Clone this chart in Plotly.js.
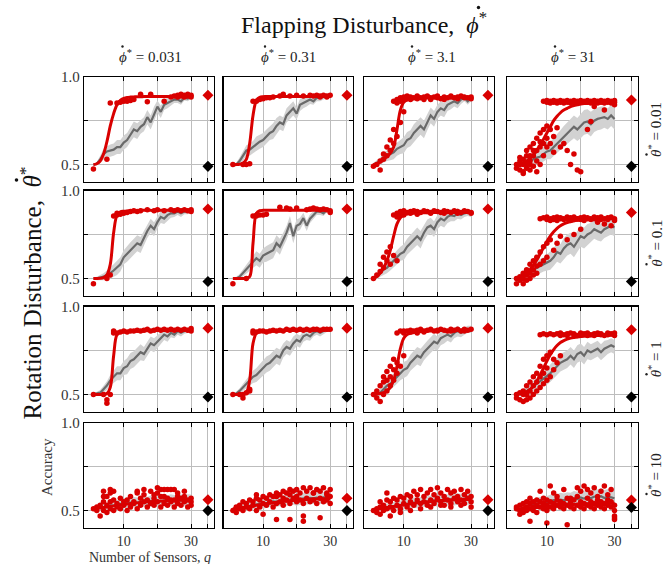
<!DOCTYPE html>
<html><head><meta charset="utf-8">
<script src="https://cdn.plot.ly/plotly-3.0.1.min.js"></script>
<style>html,body{margin:0;padding:0;background:#fff}#chart{width:668px;height:564px}</style>
</head><body><div id="chart"></div>
<script>
// ---------- data ----------
const Q = [1,2,3,4,5,6,7,8,9,10,11,12,13,14,15,16,17,18,19,20,21,22,23,24,25,26,27,28,29,30];
const colLabels = ['0.031','0.31','3.1','31'];
const rowLabels = ['0.01','0.1','1','10'];
const xTickVals = [10,20,30,35];
const xTickText = ['10','','30',''];
const yTickVals = [0.5,0.75,1.0];
const yTickText = ['0.5','','1.0'];
const allSensorsX = 35;

// row 1
const fit_11 = [0.500,0.505,0.520,0.560,0.630,0.720,0.790,0.840,0.865,0.876,0.882,0.884,0.885,0.886,0.886,0.887,0.887,0.887,0.887,0.888,0.888,0.888,0.888,0.888,0.888,0.888,0.888,0.888,0.888,0.888];
const mean_11 = [0.500,0.505,0.530,0.560,0.575,0.580,0.585,0.600,0.600,0.625,0.640,0.670,0.700,0.690,0.715,0.730,0.770,0.740,0.790,0.830,0.800,0.840,0.850,0.860,0.870,0.870,0.860,0.880,0.875,0.885];
const sd_11 = [0.005,0.010,0.020,0.030,0.030,0.035,0.035,0.040,0.040,0.040,0.040,0.040,0.045,0.045,0.040,0.040,0.040,0.040,0.040,0.035,0.035,0.030,0.030,0.025,0.020,0.020,0.020,0.015,0.015,0.010];
const px_11 = [1,5,6,8,9,10,11,12,13,15,17,18,22,24,25,26,26,27,27,28,28,29,29,30,30];
const py_11 = [0.475,0.53,0.85,0.85,0.855,0.86,0.86,0.865,0.87,0.9,0.858,0.9,0.86,0.885,0.89,0.895,0.885,0.9,0.89,0.895,0.885,0.9,0.89,0.895,0.885];

const fit_12 = [0.500,0.500,0.502,0.508,0.530,0.620,0.780,0.865,0.882,0.886,0.887,0.888,0.888,0.888,0.888,0.888,0.888,0.888,0.888,0.888,0.888,0.888,0.888,0.888,0.888,0.888,0.888,0.888,0.888,0.888];
const mean_12 = [0.500,0.500,0.520,0.550,0.580,0.585,0.600,0.620,0.630,0.640,0.660,0.680,0.690,0.720,0.740,0.730,0.780,0.800,0.820,0.790,0.840,0.850,0.860,0.870,0.860,0.880,0.880,0.885,0.890,0.890];
const sd_12 = [0.005,0.010,0.020,0.030,0.030,0.035,0.035,0.040,0.040,0.040,0.040,0.040,0.045,0.045,0.040,0.040,0.040,0.040,0.040,0.035,0.035,0.030,0.030,0.025,0.020,0.020,0.020,0.015,0.015,0.010];
const px_12 = [1,4,5,6,7,8,9,10,11,12,13,15,16,18,20,22,24,25,26,27,28,29,30,27,29];
const py_12 = [0.5,0.5,0.5,0.505,0.86,0.86,0.87,0.875,0.88,0.88,0.885,0.89,0.9,0.89,0.895,0.89,0.895,0.89,0.895,0.89,0.895,0.89,0.895,0.885,0.885];

const fit_13 = [0.500,0.505,0.515,0.530,0.545,0.565,0.600,0.700,0.810,0.855,0.868,0.873,0.875,0.877,0.878,0.879,0.879,0.880,0.880,0.881,0.881,0.881,0.882,0.882,0.882,0.882,0.883,0.883,0.883,0.883];
const mean_13 = [0.500,0.510,0.520,0.540,0.550,0.560,0.570,0.590,0.600,0.610,0.640,0.650,0.680,0.700,0.720,0.700,0.740,0.780,0.760,0.800,0.820,0.810,0.840,0.850,0.860,0.850,0.870,0.880,0.860,0.880];
const sd_13 = [0.010,0.015,0.020,0.030,0.030,0.035,0.040,0.040,0.040,0.045,0.045,0.045,0.050,0.050,0.050,0.050,0.045,0.045,0.045,0.040,0.040,0.040,0.035,0.035,0.030,0.030,0.025,0.020,0.020,0.020];
const px_13 = [1,2,3,4,4,5,5,6,6,7,7,7,8,8,8,9,9,10,10,11,11,12,12,13,14,14,15,16,16,17,18,18,19,20,20,21,22,22,23,24,24,25,26,26,27,28,28,29,30,30,3,9,10];
const py_13 = [0.49,0.5,0.52,0.53,0.56,0.55,0.6,0.58,0.64,0.62,0.7,0.86,0.66,0.85,0.87,0.86,0.88,0.87,0.885,0.875,0.89,0.87,0.885,0.88,0.875,0.89,0.88,0.885,0.87,0.89,0.88,0.87,0.885,0.88,0.89,0.875,0.885,0.87,0.88,0.885,0.89,0.88,0.885,0.875,0.89,0.88,0.885,0.88,0.885,0.875,0.47,0.74,0.8];

const fit_14 = [0.500,0.505,0.510,0.520,0.535,0.555,0.580,0.610,0.645,0.680,0.715,0.750,0.775,0.795,0.810,0.820,0.830,0.836,0.840,0.844,0.847,0.849,0.850,0.851,0.852,0.852,0.853,0.853,0.853,0.853];
const mean_14 = [0.500,0.505,0.510,0.515,0.520,0.530,0.540,0.545,0.560,0.575,0.580,0.600,0.620,0.640,0.660,0.680,0.700,0.715,0.700,0.720,0.740,0.745,0.730,0.750,0.760,0.765,0.770,0.760,0.780,0.760];
const sd_14 = [0.010,0.015,0.020,0.025,0.030,0.030,0.035,0.040,0.040,0.045,0.050,0.050,0.055,0.055,0.060,0.060,0.065,0.065,0.065,0.070,0.070,0.070,0.070,0.065,0.065,0.065,0.060,0.060,0.060,0.060];
const px_14 = [9,10,10,11,12,12,13,14,14,15,16,16,17,18,18,19,20,20,21,22,22,23,24,24,25,26,26,27,28,28,29,30,30,11,13,15,17,19,21,23,25,27,29,24,27,30,1,1,2,2,2,3,3,3,4,4,4,5,5,5,5,6,6,6,7,7,7,8,8,8,9,9,9,10,10,10,11,11,12,12,13,14,15,16,17,18,19,20,22,23,2,4,6,8,3,5,7];
const py_14 = [0.86,0.855,0.865,0.86,0.855,0.865,0.86,0.855,0.865,0.86,0.855,0.865,0.86,0.855,0.865,0.86,0.855,0.865,0.86,0.855,0.865,0.86,0.855,0.865,0.86,0.855,0.865,0.86,0.855,0.865,0.86,0.855,0.865,0.85,0.85,0.85,0.85,0.85,0.855,0.85,0.85,0.85,0.85,0.83,0.81,0.84,0.5,0.48,0.52,0.5,0.47,0.53,0.5,0.46,0.55,0.5,0.48,0.6,0.55,0.5,0.47,0.62,0.55,0.49,0.65,0.58,0.52,0.68,0.6,0.5,0.7,0.62,0.55,0.72,0.65,0.6,0.7,0.62,0.66,0.57,0.71,0.6,0.62,0.58,0.5,0.56,0.47,0.46,0.7,0.745,0.54,0.58,0.58,0.63,0.45,0.52,0.46];

// row 2
const fit_21 = [0.500,0.500,0.501,0.505,0.520,0.580,0.760,0.860,0.878,0.882,0.884,0.885,0.886,0.886,0.887,0.887,0.887,0.887,0.887,0.888,0.888,0.888,0.888,0.888,0.888,0.888,0.888,0.888,0.888,0.888];
const mean_21 = [0.500,0.500,0.505,0.510,0.520,0.530,0.545,0.560,0.580,0.620,0.640,0.660,0.680,0.700,0.690,0.730,0.770,0.800,0.780,0.820,0.850,0.840,0.860,0.870,0.870,0.880,0.870,0.880,0.880,0.885];
const sd_21 = [0.005,0.010,0.015,0.020,0.025,0.030,0.035,0.040,0.040,0.040,0.045,0.045,0.045,0.045,0.045,0.040,0.040,0.040,0.040,0.035,0.035,0.030,0.030,0.025,0.020,0.020,0.020,0.015,0.015,0.010];
const px_21 = [1,5,6,7,8,8,9,10,11,12,13,14,15,17,19,20,22,24,25,26,27,28,29,30,30];
const py_21 = [0.47,0.5,0.52,0.855,0.86,0.87,0.865,0.87,0.875,0.88,0.885,0.88,0.885,0.89,0.885,0.89,0.885,0.89,0.885,0.89,0.885,0.89,0.885,0.89,0.88];

const fit_22 = [0.500,0.500,0.500,0.500,0.502,0.510,0.700,0.870,0.885,0.887,0.888,0.888,0.888,0.888,0.888,0.888,0.888,0.888,0.888,0.888,0.888,0.888,0.888,0.888,0.888,0.888,0.888,0.888,0.888,0.888];
const mean_22 = [0.500,0.500,0.510,0.530,0.550,0.570,0.590,0.615,0.600,0.630,0.640,0.650,0.660,0.700,0.680,0.720,0.760,0.815,0.740,0.800,0.810,0.843,0.800,0.840,0.860,0.880,0.880,0.870,0.890,0.890];
const sd_22 = [0.005,0.010,0.015,0.020,0.025,0.030,0.035,0.040,0.040,0.040,0.045,0.045,0.045,0.045,0.045,0.040,0.040,0.040,0.040,0.035,0.035,0.030,0.030,0.025,0.020,0.020,0.020,0.015,0.015,0.010];
const px_22 = [1,5,7,8,8,9,10,11,15,17,18,20,23,24,25,26,27,28,29,30,30];
const py_22 = [0.47,0.5,0.855,0.855,0.86,0.86,0.86,0.865,0.905,0.9,0.895,0.9,0.89,0.895,0.9,0.895,0.89,0.895,0.89,0.885,0.875];

const fit_23 = [0.500,0.510,0.530,0.560,0.600,0.660,0.740,0.810,0.845,0.860,0.866,0.869,0.871,0.872,0.873,0.874,0.874,0.875,0.875,0.875,0.875,0.875,0.875,0.875,0.875,0.875,0.875,0.875,0.875,0.875];
const mean_23 = [0.500,0.510,0.530,0.550,0.560,0.580,0.600,0.620,0.640,0.650,0.680,0.700,0.720,0.740,0.720,0.760,0.790,0.800,0.780,0.820,0.840,0.830,0.850,0.860,0.855,0.870,0.860,0.870,0.875,0.870];
const sd_23 = [0.010,0.015,0.020,0.030,0.030,0.035,0.040,0.040,0.040,0.045,0.045,0.045,0.050,0.050,0.050,0.045,0.045,0.045,0.045,0.040,0.040,0.040,0.035,0.035,0.030,0.030,0.025,0.020,0.020,0.020];
const px_23 = [1,2,3,3,4,4,5,5,6,6,7,7,8,8,9,9,10,10,11,12,12,13,14,15,16,17,18,19,20,21,22,23,24,25,26,27,28,29,30,8,10,14,18,22,26,30];
const py_23 = [0.5,0.52,0.54,0.58,0.56,0.62,0.6,0.65,0.58,0.68,0.63,0.86,0.6,0.87,0.86,0.88,0.87,0.885,0.875,0.88,0.87,0.885,0.88,0.875,0.885,0.88,0.875,0.885,0.88,0.875,0.885,0.88,0.875,0.885,0.88,0.875,0.885,0.88,0.875,0.85,0.86,0.865,0.87,0.87,0.87,0.87];

const fit_24 = [0.500,0.505,0.515,0.530,0.550,0.575,0.605,0.640,0.675,0.710,0.740,0.765,0.785,0.800,0.810,0.818,0.824,0.828,0.831,0.833,0.835,0.836,0.837,0.838,0.838,0.839,0.839,0.839,0.840,0.840];
const mean_24 = [0.500,0.510,0.520,0.530,0.540,0.550,0.560,0.570,0.580,0.590,0.600,0.620,0.650,0.640,0.670,0.690,0.700,0.680,0.710,0.740,0.730,0.750,0.760,0.780,0.770,0.760,0.780,0.790,0.800,0.790];
const sd_24 = [0.010,0.015,0.020,0.025,0.030,0.030,0.035,0.040,0.040,0.045,0.050,0.050,0.055,0.055,0.060,0.060,0.060,0.060,0.060,0.060,0.060,0.060,0.055,0.055,0.055,0.050,0.050,0.050,0.050,0.050];
const px_24 = [8,9,10,10,11,12,12,13,14,14,15,16,16,17,18,18,19,20,20,21,22,22,23,24,24,25,26,26,27,28,28,29,30,30,11,13,15,17,19,21,23,25,27,29,1,1,2,2,3,3,3,4,4,4,5,5,5,6,6,6,7,7,7,8,8,9,9,10,10,11,12,13,14,16,18,20];
const py_24 = [0.84,0.845,0.835,0.85,0.84,0.845,0.835,0.85,0.84,0.845,0.835,0.85,0.84,0.845,0.835,0.85,0.84,0.845,0.835,0.85,0.84,0.845,0.835,0.85,0.84,0.845,0.835,0.85,0.84,0.845,0.835,0.85,0.84,0.83,0.83,0.83,0.84,0.83,0.84,0.83,0.84,0.82,0.81,0.8,0.5,0.47,0.51,0.49,0.53,0.5,0.47,0.55,0.52,0.49,0.58,0.53,0.5,0.6,0.55,0.52,0.62,0.57,0.53,0.65,0.58,0.68,0.6,0.7,0.62,0.72,0.66,0.7,0.74,0.72,0.75,0.78];

// row 3
const fit_31 = [0.500,0.500,0.500,0.501,0.505,0.540,0.720,0.840,0.852,0.855,0.857,0.858,0.859,0.860,0.861,0.862,0.862,0.863,0.863,0.864,0.864,0.864,0.865,0.865,0.865,0.865,0.865,0.865,0.865,0.865];
const mean_31 = [0.500,0.505,0.510,0.530,0.550,0.580,0.600,0.620,0.620,0.650,0.660,0.690,0.700,0.720,0.740,0.730,0.760,0.790,0.780,0.800,0.820,0.840,0.830,0.850,0.840,0.860,0.850,0.860,0.865,0.870];
const sd_31 = [0.005,0.010,0.015,0.020,0.025,0.030,0.035,0.040,0.040,0.040,0.045,0.045,0.045,0.045,0.045,0.040,0.040,0.040,0.040,0.035,0.035,0.030,0.030,0.025,0.020,0.020,0.020,0.015,0.015,0.010];
const px_31 = [1,4,5,5,6,7,7,8,9,10,11,12,13,14,15,16,17,18,19,20,21,22,23,24,25,26,27,28,29,30,30];
const py_31 = [0.5,0.5,0.45,0.47,0.5,0.85,0.86,0.85,0.855,0.86,0.855,0.86,0.86,0.865,0.86,0.865,0.87,0.86,0.865,0.87,0.865,0.87,0.865,0.87,0.865,0.87,0.865,0.87,0.865,0.875,0.86];

const fit_32 = [0.500,0.500,0.500,0.502,0.510,0.580,0.790,0.848,0.856,0.858,0.860,0.861,0.862,0.862,0.863,0.863,0.864,0.864,0.864,0.865,0.865,0.865,0.865,0.865,0.865,0.865,0.865,0.865,0.865,0.865];
const mean_32 = [0.500,0.505,0.520,0.540,0.560,0.580,0.600,0.610,0.630,0.650,0.670,0.680,0.700,0.720,0.710,0.750,0.770,0.760,0.790,0.810,0.800,0.830,0.840,0.830,0.850,0.860,0.850,0.860,0.870,0.870];
const sd_32 = [0.005,0.010,0.015,0.020,0.025,0.030,0.035,0.040,0.040,0.040,0.045,0.045,0.045,0.045,0.045,0.040,0.040,0.040,0.040,0.035,0.035,0.030,0.030,0.025,0.020,0.020,0.020,0.015,0.015,0.010];
const px_32 = [1,3,4,5,6,7,7,8,9,10,11,12,13,14,15,16,17,18,19,20,21,22,23,24,25,26,27,28,29,30,4,6];
const py_32 = [0.5,0.5,0.5,0.51,0.52,0.85,0.86,0.855,0.86,0.86,0.855,0.86,0.865,0.86,0.865,0.86,0.87,0.865,0.87,0.865,0.87,0.865,0.87,0.865,0.87,0.87,0.865,0.87,0.87,0.87,0.48,0.53];

const fit_33 = [0.500,0.502,0.505,0.510,0.520,0.540,0.580,0.660,0.760,0.820,0.840,0.848,0.852,0.855,0.857,0.859,0.860,0.861,0.862,0.863,0.863,0.864,0.864,0.864,0.865,0.865,0.865,0.865,0.865,0.865];
const mean_33 = [0.490,0.500,0.510,0.530,0.550,0.560,0.580,0.600,0.620,0.640,0.650,0.680,0.700,0.720,0.710,0.740,0.760,0.780,0.800,0.790,0.820,0.830,0.840,0.830,0.850,0.860,0.850,0.860,0.870,0.870];
const sd_33 = [0.010,0.015,0.020,0.030,0.030,0.035,0.040,0.040,0.040,0.045,0.045,0.045,0.050,0.050,0.050,0.045,0.045,0.045,0.045,0.040,0.040,0.040,0.035,0.035,0.030,0.030,0.025,0.020,0.020,0.020];
const px_33 = [1,2,2,3,3,4,4,4,5,5,5,6,6,6,7,7,7,8,8,8,9,9,10,10,11,12,13,14,15,16,17,18,19,20,21,22,23,24,25,26,27,28,29,30,10,12,14,16,20,24,28];
const py_33 = [0.5,0.48,0.52,0.46,0.55,0.5,0.57,0.6,0.52,0.58,0.63,0.55,0.6,0.66,0.58,0.64,0.7,0.62,0.68,0.85,0.66,0.86,0.72,0.86,0.86,0.865,0.86,0.865,0.87,0.86,0.865,0.87,0.86,0.865,0.87,0.865,0.86,0.87,0.865,0.87,0.86,0.87,0.865,0.87,0.85,0.855,0.85,0.855,0.86,0.86,0.86];

const fit_34 = [0.500,0.503,0.508,0.515,0.528,0.548,0.575,0.610,0.650,0.690,0.725,0.755,0.778,0.795,0.806,0.814,0.820,0.824,0.827,0.829,0.831,0.832,0.833,0.834,0.835,0.835,0.836,0.836,0.836,0.836];
const mean_34 = [0.500,0.505,0.510,0.520,0.530,0.545,0.560,0.575,0.590,0.600,0.620,0.640,0.660,0.680,0.690,0.700,0.720,0.700,0.730,0.740,0.720,0.750,0.740,0.750,0.760,0.740,0.760,0.770,0.780,0.770];
const sd_34 = [0.010,0.015,0.020,0.025,0.030,0.030,0.035,0.040,0.040,0.045,0.050,0.050,0.050,0.050,0.050,0.050,0.050,0.050,0.050,0.050,0.050,0.050,0.045,0.045,0.045,0.045,0.045,0.040,0.040,0.040];
const px_34 = [8,9,10,11,12,13,14,14,15,16,16,17,18,18,19,20,20,21,22,22,23,24,24,25,26,26,27,28,28,29,30,30,1,1,2,2,3,3,3,4,4,4,5,5,5,6,6,6,7,7,7,8,8,8,9,9,9,10,10,10,11,11,12,12,13,14];
const py_34 = [0.84,0.845,0.84,0.845,0.84,0.845,0.835,0.85,0.84,0.845,0.835,0.85,0.84,0.845,0.835,0.85,0.84,0.845,0.835,0.85,0.84,0.845,0.835,0.85,0.84,0.845,0.835,0.85,0.84,0.845,0.835,0.85,0.5,0.48,0.51,0.47,0.52,0.5,0.46,0.55,0.5,0.47,0.57,0.52,0.48,0.6,0.55,0.5,0.62,0.57,0.52,0.66,0.6,0.54,0.7,0.62,0.56,0.72,0.65,0.58,0.74,0.6,0.7,0.64,0.68,0.72];

// row 4
const fit_41 = [0.510,0.512,0.515,0.518,0.521,0.524,0.527,0.530,0.533,0.535,0.538,0.540,0.542,0.544,0.546,0.548,0.550,0.551,0.552,0.553,0.554,0.555,0.556,0.557,0.558,0.558,0.559,0.559,0.560,0.560];
const mean_41 = [0.510,0.512,0.515,0.520,0.525,0.530,0.528,0.535,0.538,0.540,0.542,0.545,0.548,0.545,0.550,0.552,0.548,0.555,0.553,0.556,0.552,0.558,0.555,0.560,0.556,0.558,0.560,0.556,0.560,0.558];
const sd_41 = [0.010,0.012,0.015,0.018,0.020,0.022,0.024,0.025,0.026,0.027,0.028,0.028,0.029,0.030,0.030,0.030,0.031,0.031,0.032,0.032,0.032,0.032,0.033,0.033,0.033,0.033,0.033,0.033,0.033,0.033];
const px_41 = [1,2,2,3,3,4,4,4,5,5,5,6,6,6,7,7,8,8,9,9,10,10,11,11,12,12,13,13,14,14,15,15,16,16,17,17,18,18,19,19,20,20,21,21,22,22,23,23,24,24,25,25,26,26,27,27,28,28,29,29,30,30,4,6,7,14,16,19,20,21,22,23,24,25,26,28,30];
const py_41 = [0.51,0.50,0.52,0.47,0.53,0.50,0.55,0.61,0.49,0.53,0.58,0.51,0.55,0.62,0.50,0.56,0.52,0.54,0.51,0.57,0.53,0.55,0.50,0.56,0.52,0.58,0.54,0.55,0.51,0.60,0.53,0.57,0.55,0.59,0.52,0.56,0.54,0.61,0.53,0.57,0.55,0.63,0.52,0.58,0.54,0.62,0.53,0.57,0.55,0.62,0.52,0.56,0.54,0.60,0.53,0.57,0.55,0.58,0.52,0.56,0.53,0.55,0.58,0.60,0.61,0.61,0.62,0.59,0.60,0.62,0.58,0.62,0.56,0.62,0.58,0.61,0.57];

const fit_42 = [0.510,0.512,0.515,0.518,0.521,0.524,0.527,0.530,0.533,0.536,0.539,0.542,0.545,0.548,0.550,0.552,0.554,0.556,0.558,0.560,0.561,0.562,0.563,0.564,0.565,0.566,0.567,0.567,0.568,0.568];
const mean_42 = [0.505,0.510,0.515,0.520,0.525,0.528,0.532,0.535,0.540,0.538,0.545,0.548,0.552,0.550,0.556,0.560,0.558,0.562,0.565,0.560,0.566,0.570,0.566,0.572,0.570,0.574,0.570,0.575,0.572,0.575];
const sd_42 = [0.010,0.012,0.015,0.018,0.020,0.022,0.024,0.025,0.026,0.027,0.028,0.028,0.029,0.030,0.030,0.030,0.031,0.031,0.032,0.032,0.032,0.032,0.033,0.033,0.033,0.033,0.033,0.033,0.033,0.033];
const px_42 = [1,2,2,3,3,4,4,5,5,6,6,7,7,8,8,8,9,9,10,10,10,11,11,12,12,13,13,14,14,14,15,15,16,16,17,17,18,18,18,19,19,20,20,21,21,22,22,22,23,23,24,24,25,25,26,26,27,27,28,28,29,29,30,30,30,14,16,18,20,22,25,27,29];
const py_42 = [0.50,0.49,0.52,0.51,0.53,0.50,0.55,0.52,0.54,0.51,0.56,0.53,0.55,0.50,0.57,0.59,0.52,0.56,0.54,0.58,0.48,0.53,0.57,0.55,0.59,0.52,0.58,0.54,0.60,0.45,0.55,0.59,0.53,0.61,0.56,0.60,0.54,0.62,0.45,0.57,0.61,0.55,0.62,0.56,0.60,0.54,0.63,0.44,0.57,0.61,0.55,0.63,0.56,0.60,0.54,0.62,0.57,0.61,0.55,0.63,0.56,0.60,0.54,0.62,0.58,0.58,0.57,0.59,0.58,0.47,0.60,0.46,0.59];

const fit_43 = [0.505,0.508,0.511,0.514,0.517,0.520,0.523,0.526,0.529,0.532,0.535,0.538,0.541,0.544,0.546,0.548,0.550,0.552,0.554,0.556,0.557,0.558,0.559,0.560,0.561,0.562,0.563,0.563,0.564,0.564];
const mean_43 = [0.505,0.508,0.512,0.515,0.520,0.522,0.526,0.530,0.532,0.535,0.538,0.542,0.545,0.543,0.548,0.552,0.550,0.555,0.558,0.554,0.560,0.562,0.558,0.565,0.562,0.566,0.563,0.568,0.565,0.568];
const sd_43 = [0.010,0.012,0.015,0.018,0.020,0.022,0.024,0.025,0.026,0.027,0.028,0.028,0.029,0.030,0.030,0.030,0.031,0.031,0.032,0.032,0.032,0.032,0.033,0.033,0.033,0.033,0.033,0.033,0.033,0.033];
const px_43 = [1,2,2,3,3,3,4,4,5,5,5,6,6,7,7,8,8,9,9,10,10,11,11,12,12,13,13,14,14,15,15,16,16,17,17,18,18,19,19,20,20,21,21,22,22,23,23,24,24,25,25,26,26,27,27,28,28,29,29,30,30,6,9,12,15,18,21,24,27,30];
const py_43 = [0.50,0.51,0.49,0.52,0.48,0.55,0.50,0.53,0.51,0.56,0.60,0.52,0.55,0.50,0.57,0.53,0.56,0.51,0.58,0.54,0.57,0.52,0.59,0.55,0.58,0.53,0.61,0.56,0.59,0.54,0.62,0.55,0.58,0.53,0.60,0.56,0.62,0.54,0.59,0.57,0.63,0.55,0.60,0.53,0.58,0.56,0.62,0.54,0.60,0.57,0.61,0.55,0.58,0.56,0.62,0.54,0.59,0.57,0.61,0.55,0.58,0.47,0.49,0.50,0.51,0.52,0.53,0.52,0.53,0.52];

const fit_44 = [0.505,0.507,0.509,0.511,0.513,0.515,0.517,0.519,0.521,0.523,0.525,0.527,0.529,0.531,0.532,0.533,0.534,0.535,0.536,0.537,0.538,0.539,0.540,0.540,0.541,0.541,0.542,0.542,0.542,0.542];
const mean_44 = [0.505,0.510,0.515,0.520,0.530,0.535,0.540,0.545,0.550,0.548,0.555,0.560,0.555,0.562,0.558,0.565,0.560,0.570,0.565,0.575,0.568,0.578,0.570,0.580,0.575,0.582,0.572,0.578,0.575,0.570];
const sd_44 = [0.010,0.015,0.020,0.022,0.025,0.028,0.030,0.032,0.034,0.035,0.036,0.037,0.038,0.039,0.040,0.040,0.041,0.042,0.042,0.043,0.043,0.044,0.044,0.045,0.045,0.045,0.045,0.045,0.045,0.045];
const px_44 = [1,1,2,2,2,3,3,3,4,4,4,5,5,5,6,6,6,7,7,7,8,8,9,9,9,10,10,10,11,11,12,12,13,13,14,14,15,15,16,16,17,17,18,18,19,19,20,20,21,21,22,22,23,23,24,24,25,25,26,26,27,27,28,28,29,29,30,30,30,30,8,11,12,13,15,17,19,20,21,22,23,24,25,26,27,28,29,30,5,10,16];
const py_44 = [0.51,0.52,0.50,0.53,0.48,0.51,0.54,0.49,0.52,0.55,0.50,0.51,0.54,0.57,0.52,0.55,0.50,0.53,0.56,0.49,0.52,0.55,0.51,0.54,0.57,0.53,0.56,0.50,0.52,0.55,0.51,0.54,0.53,0.56,0.52,0.55,0.51,0.54,0.53,0.57,0.52,0.55,0.51,0.56,0.53,0.58,0.52,0.55,0.51,0.54,0.53,0.57,0.52,0.55,0.51,0.54,0.53,0.56,0.52,0.55,0.51,0.54,0.53,0.56,0.52,0.55,0.50,0.53,0.47,0.45,0.61,0.64,0.60,0.58,0.62,0.57,0.63,0.61,0.64,0.62,0.60,0.63,0.58,0.61,0.64,0.59,0.62,0.46,0.44,0.43,0.42];

// all-sensor accuracy (red) and baseline (black), per row x column
const redDiamond = [[0.895,0.895,0.895,0.868],[0.895,0.895,0.895,0.875],[0.877,0.877,0.877,0.868],[0.562,0.570,0.562,0.560]];
const blackDiamond = [[0.490,0.490,0.490,0.490],[0.483,0.483,0.483,0.483],[0.485,0.485,0.485,0.485],[0.500,0.500,0.500,0.518]];

// ---------- build ----------
const D = {fit_11,mean_11,sd_11,px_11,py_11,fit_12,mean_12,sd_12,px_12,py_12,fit_13,mean_13,sd_13,px_13,py_13,fit_14,mean_14,sd_14,px_14,py_14,
fit_21,mean_21,sd_21,px_21,py_21,fit_22,mean_22,sd_22,px_22,py_22,fit_23,mean_23,sd_23,px_23,py_23,fit_24,mean_24,sd_24,px_24,py_24,
fit_31,mean_31,sd_31,px_31,py_31,fit_32,mean_32,sd_32,px_32,py_32,fit_33,mean_33,sd_33,px_33,py_33,fit_34,mean_34,sd_34,px_34,py_34,
fit_41,mean_41,sd_41,px_41,py_41,fit_42,mean_42,sd_42,px_42,py_42,fit_43,mean_43,sd_43,px_43,py_43,fit_44,mean_44,sd_44,px_44,py_44};

const W = 668, H = 564;
const colPx = [[84,214],[223.5,353],[364,494],[507,637.5]];
const rowTop = [76.7,190.5,306.5,422.7];
const rowH = 105.5;
const RED = '#d90000';
const FONT = 'Liberation Serif, Times New Roman, serif';
const phiStar = '<i>\u03D5</i><sup>*</sup>';
const thetaStar = '<i>\u03B8</i><sup>*</sup>';

const traces = [];
const layout = {
  width: W, height: H, margin:{l:0,r:0,t:0,b:0}, showlegend:false,
  paper_bgcolor:'#fff', plot_bgcolor:'#fff', font:{family:FONT, color:'#222', size:14},
  annotations: [], shapes: []
};

for (let r=0;r<4;r++){
  for (let c=0;c<4;c++){
    const k = r*4+c+1;
    const id = `${r+1}${c+1}`;
    const xa = k===1?'x':'x'+k, ya = k===1?'y':'y'+k;
    const fit=D['fit_'+id], mean=D['mean_'+id], sd=D['sd_'+id];
    const lo = mean.map((m,i)=>m-sd[i]), hi = mean.map((m,i)=>m+sd[i]);
    traces.push({x:Q,y:lo,xaxis:xa,yaxis:ya,mode:'lines',line:{width:0,color:'rgba(0,0,0,0)'},hoverinfo:'skip'});
    traces.push({x:Q,y:hi,xaxis:xa,yaxis:ya,mode:'lines',line:{width:0,color:'rgba(0,0,0,0)'},fill:'tonexty',fillcolor:'#d2d2d2',hoverinfo:'skip'});
    traces.push({x:Q,y:mean,xaxis:xa,yaxis:ya,mode:'lines',line:{width:2.2,color:'#6a6a6a'}});
    traces.push({x:Q,y:fit,xaxis:xa,yaxis:ya,mode:'lines',line:{width:3,color:RED,shape:'spline'}});
    traces.push({x:D['px_'+id],y:D['py_'+id],xaxis:xa,yaxis:ya,mode:'markers',marker:{size:5.5,color:RED}});
    traces.push({x:[allSensorsX],y:[redDiamond[r][c]],xaxis:xa,yaxis:ya,mode:'markers',marker:{symbol:'diamond',size:8.5,color:RED}});
    traces.push({x:[allSensorsX],y:[blackDiamond[r][c]],xaxis:xa,yaxis:ya,mode:'markers',marker:{symbol:'diamond',size:8.5,color:'#000'}});

    const xd=[colPx[c][0]/W, colPx[c][1]/W];
    const yd=[1-(rowTop[r]+rowH)/H, 1-rowTop[r]/H];
    layout['xaxis'+(k===1?'':k)] = {domain:xd, anchor:ya, range:[-1.8,36.8], tickvals:xTickVals, ticktext:xTickText,
      showticklabels:r===3, ticks:'inside', ticklen:4, tickcolor:'#000', showline:true, mirror:'ticks', linecolor:'#000', linewidth:1.2,
      showgrid:true, gridcolor:'#bdbdbd', gridwidth:1, zeroline:false, tickfont:{size:14, family:FONT, color:'#333'}};
    layout['yaxis'+(k===1?'':k)] = {domain:yd, anchor:xa, range:[0.4,1.0], tickvals:yTickVals, ticktext:yTickText,
      showticklabels:c===0, ticks:'inside', ticklen:4, tickcolor:'#000', showline:true, mirror:'ticks', linecolor:'#000', linewidth:1.2,
      showgrid:true, gridcolor:'#bdbdbd', gridwidth:1, zeroline:false, tickfont:{size:15, family:FONT, color:'#333'}};
  }
}

// helper: paper coordinates from pixels
const px2x = v => v/W, px2y = v => 1 - v/H;
function dot(cx, cy, rad, col){
  layout.shapes.push({type:'circle', xref:'paper', yref:'paper', x0:px2x(cx-rad), x1:px2x(cx+rad), y0:px2y(cy+rad), y1:px2y(cy-rad), fillcolor:col, line:{width:0}});
}

const ann = layout.annotations;
// main title, anchored at its right end so the symbol position is known
ann.push({text:'Flapping Disturbance,  '+phiStar, x:px2x(489), y:px2y(23), xref:'paper', yref:'paper', showarrow:false, font:{size:24, family:FONT, color:'#111'}, xanchor:'right', yanchor:'middle'});
dot(478.5, 7.5, 1.7, '#111');
// column headers, anchored left
const colLeft = [116.5, 259, 406, 549];
for (let c=0;c<4;c++){
  ann.push({text:phiStar+' = '+colLabels[c], x:px2x(colLeft[c]), y:px2y(56), xref:'paper', yref:'paper', showarrow:false, font:{size:15, family:FONT, color:'#222'}, xanchor:'left', yanchor:'middle'});
  dot(colLeft[c]+6, 46.5, 1.2, '#222');
}
// row labels (rotated), anchored at bottom
const rowHalf = [30, 26, 20, 23.5];
for (let r=0;r<4;r++){
  const yb = rowTop[r]+rowH/2+rowHalf[r];
  ann.push({text:thetaStar+' = '+rowLabels[r], x:px2x(655), y:px2y(yb), xref:'paper', yref:'paper', showarrow:false, textangle:-90, font:{size:15, family:FONT, color:'#222'}, xanchor:'center', yanchor:'bottom'});
  dot(646.5, yb-5, 1.2, '#222');
}
ann.push({text:'Rotation Disturbance,  '+thetaStar, x:px2x(30), y:px2y(165), xref:'paper', yref:'paper', showarrow:false, textangle:-90, font:{size:25, family:FONT, color:'#111'}, xanchor:'center', yanchor:'top'});
dot(16.5, 180, 1.8, '#111');
ann.push({text:'Accuracy', x:px2x(47), y:px2y(467), xref:'paper', yref:'paper', showarrow:false, textangle:-90, font:{size:15, family:FONT, color:'#333'}, xanchor:'center', yanchor:'middle'});
ann.push({text:'Number of Sensors, <i>q</i>', x:px2x(150), y:px2y(557), xref:'paper', yref:'paper', showarrow:false, font:{size:14, family:FONT, color:'#333'}, xanchor:'center', yanchor:'middle'});

Plotly.newPlot('chart', traces, layout, {staticPlot:true});
</script></body></html>
